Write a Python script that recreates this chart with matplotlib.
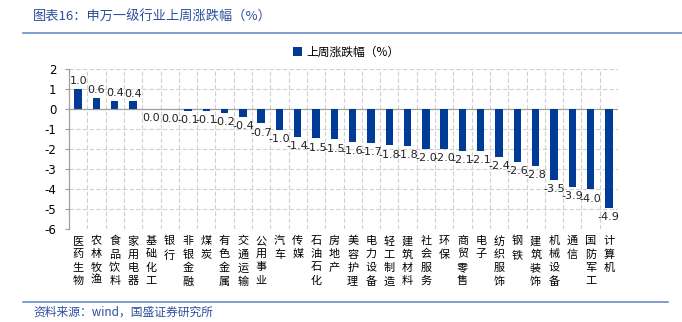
import matplotlib
matplotlib.use('Agg')
import matplotlib.pyplot as plt
from matplotlib.patches import Patch
from matplotlib.lines import Line2D

plt.rcParams['font.family'] = ['Noto Sans CJK SC', 'DejaVu Sans']

# Industry names and weekly change (%)
industries = ['医药生物', '农林牧渔', '食品饮料', '家用电器', '基础化工', '银行',
              '非银金融', '煤炭', '有色金属', '交通运输', '公用事业', '汽车',
              '传媒', '石油石化', '房地产', '美容护理', '电力设备', '轻工制造',
              '建筑材料', '社会服务', '环保', '商贸零售', '电子', '纺织服饰',
              '钢铁', '建筑装饰', '机械设备', '通信', '国防军工', '计算机']
changes = [1.0, 0.55, 0.4, 0.38, 0.0, -0.02, -0.08, -0.09, -0.2, -0.38,
           -0.72, -1.03, -1.38, -1.47, -1.52, -1.64, -1.71, -1.82, -1.84,
           -1.98, -2.01, -2.09, -2.11, -2.4, -2.64, -2.84, -3.53, -3.9,
           -4.02, -4.93]
series_name = '上周涨跌幅（%）'

bar_color = '#003C96'
grid_color = '#D0D0D0'
blue_line = '#6A8CC8'
title_color = '#2B4F9E'

fig = plt.figure(figsize=(6.82, 3.22), dpi=100)
ax = fig.add_axes([69 / 682, 1 - 229 / 322, (618 - 69) / 682, 160 / 322])

x = list(range(len(industries)))
ax.bar(x, changes, width=0.4, color=bar_color, zorder=3)

# value labels (near-zero values shown as 0.0, below the axis)
for xi, v in zip(x, changes):
    txt = '0.0' if round(v, 1) == 0 else f'{v:.1f}'
    if v > 0:
        ax.annotate(txt, (xi, v), xytext=(0, 2), textcoords='offset points',
                    ha='center', va='bottom', fontsize=8, family='DejaVu Sans',
                    color='#222222', zorder=4)
    else:
        ax.annotate(txt, (xi, v), xytext=(0, -3), textcoords='offset points',
                    ha='center', va='top', fontsize=8, family='DejaVu Sans',
                    color='#222222', zorder=4)

ax.set_xlim(-0.5, len(industries) - 0.5)
ax.set_ylim(-6, 2)
ax.set_yticks(range(-6, 3))
ax.set_yticklabels([str(t) for t in range(-6, 3)], family='DejaVu Sans', fontsize=8.5)

ax.set_xticks(x)
ax.set_xticklabels(['\n'.join(n) for n in industries], fontsize=8,
                   linespacing=1.4, va='top')
ax.set_xticks([i - 0.5 for i in range(len(industries) + 1)], minor=True)
ax.tick_params(axis='x', which='both', length=0, pad=5)
ax.tick_params(axis='y', length=3, color='#A0A0A0', pad=6)

ax.grid(True, which='minor', axis='x', color=grid_color, linestyle=(0, (4, 2)), lw=0.8, zorder=0)
ax.grid(True, which='major', axis='y', color=grid_color, linestyle=(0, (4, 2)), lw=0.8, zorder=0)
ax.axhline(0, color='#A0A0A0', lw=0.9, zorder=2)

for s in ['top', 'right', 'bottom']:
    ax.spines[s].set_visible(False)
ax.spines['left'].set_color('#A0A0A0')
ax.spines['left'].set_linewidth(0.9)

# legend
handle = Patch(facecolor=bar_color, edgecolor='none')
fig.legend([handle], [series_name], loc='center', bbox_to_anchor=(0.508, 0.838),
           frameon=False, fontsize=8.5, handlelength=0.7, handleheight=0.7,
           handletextpad=0.4)

# title, header/footer lines and source
fig.text(33 / 682, 1 - 17 / 322, '图表16：申万一级行业上周涨跌幅（%）', color=title_color,
         fontsize=9.5, style='italic', va='center', ha='left')
fig.add_artist(Line2D([23 / 682, 1.0], [1 - 33 / 322] * 2, color=blue_line, lw=1.2))
fig.add_artist(Line2D([23 / 682, 668 / 682], [1 - 302 / 322] * 2, color=blue_line, lw=1.2))
fig.text(33 / 682, 1 - 312 / 322, '资料来源：wind，国盛证券研究所', color=title_color,
         fontsize=8.5, style='italic', va='center', ha='left')

fig.savefig('out.png', dpi=100)
